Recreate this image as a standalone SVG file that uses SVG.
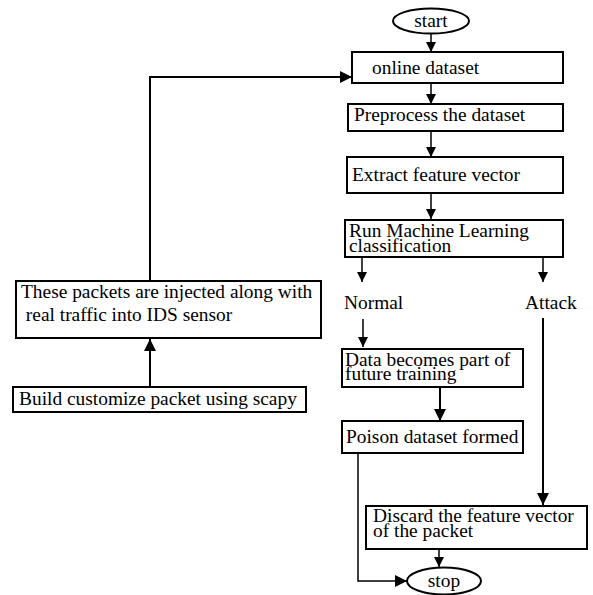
<svg xmlns="http://www.w3.org/2000/svg" width="593" height="595" viewBox="0 0 593 595">
<defs>
<marker id="ah" viewBox="0 0 10 10" refX="10" refY="5" markerWidth="10" markerHeight="10" markerUnits="userSpaceOnUse" orient="auto">
<path d="M0,0 L10,5 L0,10 z" fill="#000"/>
</marker>
<marker id="ahb" viewBox="0 0 10 10" refX="10" refY="5" markerWidth="12" markerHeight="12" markerUnits="userSpaceOnUse" orient="auto">
<path d="M0,0 L10,5 L0,10 z" fill="#000"/>
</marker>
</defs>
<style>
.box{fill:#fff;stroke:#000;stroke-width:2}
.t{font-family:"Liberation Serif","Times New Roman",serif;font-size:19.4px;fill:#000}
.c{fill:none;stroke:#000;stroke-width:1.5}
.c2{fill:none;stroke:#000;stroke-width:2}
</style>
<rect width="593" height="595" fill="#fff"/>
<g id="connectors">
<path class="c" d="M431,33 V52" marker-end="url(#ah)"/>
<path class="c" d="M431,83 V104" marker-end="url(#ah)"/>
<path class="c" d="M431,131 V157" marker-end="url(#ah)"/>
<path class="c" d="M431,193 V219" marker-end="url(#ah)"/>
<path class="c" d="M362,257 V282" marker-end="url(#ah)"/>
<path class="c" d="M543,257 V282" marker-end="url(#ah)"/>
<path class="c" d="M363,319 V347" marker-end="url(#ah)"/>
<path class="c2" d="M440,387 V421" marker-end="url(#ahb)"/>
<path class="c2" d="M543,318 V505" marker-end="url(#ahb)"/>
<path class="c" d="M439,549 V567" marker-end="url(#ah)"/>
<path class="c" d="M358,453 V581 H407" marker-end="url(#ahb)"/>
<path class="c2" d="M150,387 V339" marker-end="url(#ahb)"/>
<path class="c2" d="M150,281 V77 H352" marker-end="url(#ahb)"/>
</g>
<g id="start">
<ellipse cx="431" cy="21" rx="38" ry="12.5" class="box"/>
<text class="t" x="431" y="27" text-anchor="middle">start</text>
</g>
<g id="online">
<rect class="box" x="352" y="52" width="211" height="31"/>
<text class="t" x="372" y="74">online dataset</text>
</g>
<g id="preprocess">
<rect class="box" x="348" y="104" width="215" height="27"/>
<text class="t" x="354" y="121">Preprocess the dataset</text>
</g>
<g id="extract">
<rect class="box" x="347" y="157" width="216" height="36"/>
<text class="t" x="352" y="181">Extract feature vector</text>
</g>
<g id="classify">
<rect class="box" x="345" y="220" width="218" height="37"/>
<text class="t" x="349" y="237">Run Machine Learning</text>
<text class="t" x="349" y="252">classification</text>
</g>
<g id="normal">
<text class="t" x="344" y="309">Normal</text>
</g>
<g id="attack">
<text class="t" x="525" y="309">Attack</text>
</g>
<g id="data">
<rect class="box" x="342" y="349" width="181" height="38"/>
<text class="t" x="345" y="366">Data becomes part of</text>
<text class="t" x="345" y="380">future training</text>
</g>
<g id="poison">
<rect class="box" x="342" y="421" width="181" height="32"/>
<text class="t" x="346" y="443">Poison dataset formed</text>
</g>
<g id="discard">
<rect class="box" x="366" y="506" width="221" height="43"/>
<text class="t" x="373" y="522">Discard the feature vector</text>
<text class="t" x="373" y="537">of the packet</text>
</g>
<g id="stop">
<ellipse cx="444" cy="581" rx="37" ry="13.5" class="box"/>
<text class="t" x="444" y="587" text-anchor="middle">stop</text>
</g>
<g id="inject">
<rect class="box" x="16" y="281" width="305" height="57"/>
<text class="t" x="21" y="298">These packets are injected along with</text>
<text class="t" x="21" y="321" xml:space="preserve"> real traffic into IDS sensor</text>
</g>
<g id="build">
<rect class="box" x="13" y="387" width="293" height="25"/>
<text class="t" x="19" y="405">Build customize packet using scapy</text>
</g>
</svg>
